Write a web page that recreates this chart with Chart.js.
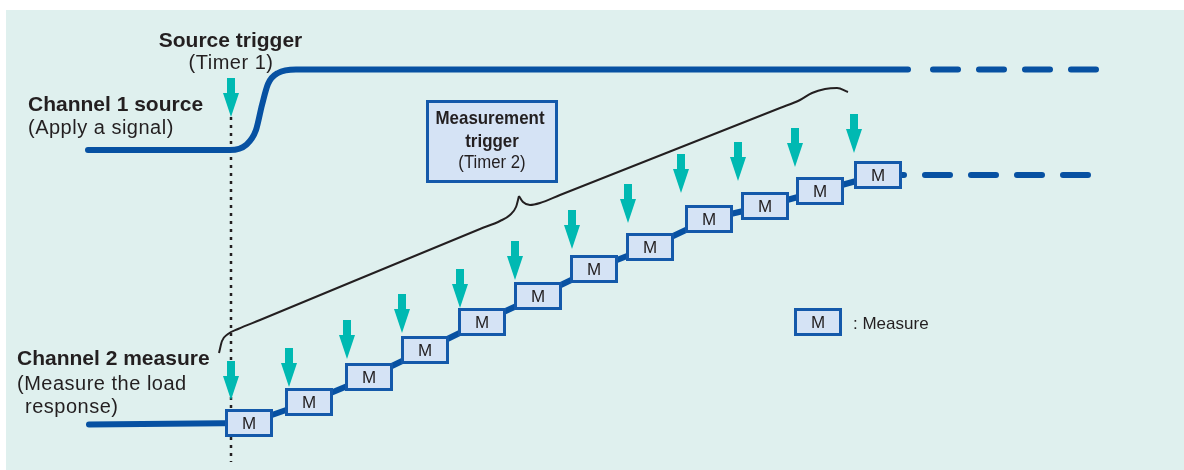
<!DOCTYPE html>
<html>
<head>
<meta charset="utf-8">
<script src="https://cdn.jsdelivr.net/npm/chart.js@4.4.0/dist/chart.umd.min.js"></script>
<style>
  html, body { margin: 0; padding: 0; background: #fff; }
  #wrap { width: 1184px; height: 470px; }
</style>
</head>
<body>
<div id="wrap"><canvas id="chart1"></canvas></div>
<script>
// Diagram values (x = time, y = level; both in picture units)

// Channel 1 source: flat, S-shaped rise after the source trigger, then flat
const ch1X = [88, 230, 246, 256, 262, 268, 278, 296, 908];
const ch1Y = [150, 150, 145, 130, 105, 84, 73, 69.5, 69.5];
const ch1DashX = [933, 1097];
const ch1DashY = [69.5, 69.5];

// Channel 2 measure: flat start, then one step per measurement
const ch2StartX = [89];
const ch2StartY = [424.5];
const measX = [249, 309, 369, 425, 482, 538, 594, 650, 709, 765, 820, 878];
const measY = [423, 402, 377, 350, 322, 296, 269, 247, 219, 206, 191, 175];
const ch2EndX = [904];
const ch2EndY = [175];
const ch2DashX = [925, 1089];
const ch2DashY = [175, 175];

// trigger arrows (tip positions)
const srcTrigX = [231];
const srcTrigY = [117];
const measTrigX = [231, 289, 347, 402, 460, 515, 572, 628, 681, 738, 795, 854];
const measTrigY = [400, 387, 359, 333, 308, 280, 249, 223, 193, 181, 167, 153];

// dotted marker below the source trigger
const markX = [231, 231];
const markY = [117, 462];

// brace spanning the measurement triggers
const braceLX = [219, 222, 228, 238, 260, 480, 500, 510, 516, 519];
const braceLY = [353, 341, 334, 329, 320, 229, 221, 215, 207, 196];
const braceRX = [519, 523, 530, 540, 560, 780, 800, 812, 825, 837, 848];
const braceRY = [196, 202, 205, 203, 195, 108, 100, 93, 89, 88, 92];

// legend sample box
const legendX = [818];
const legendY = [322];

const BLUE = '#0751a2';
const BOX_EDGE = '#1459aa';
const BOX_FILL = '#d5e3f5';
const CYAN = '#00b9b2';
const INK = '#231f20';
const BG = '#dff0ee';
const FONT = '"Liberation Sans", Arial, Helvetica, sans-serif';

function pts(xs, ys) {
    return xs.map(function(x, i) { return {x: x, y: ys[i]}; });
}

// "M" box used as point style
function makeBox() {
    const c = document.createElement('canvas');
    c.width = 48; c.height = 28;
    const g = c.getContext('2d');
    g.fillStyle = BOX_FILL;
    g.fillRect(0, 0, 48, 28);
    g.strokeStyle = BOX_EDGE;
    g.lineWidth = 3;
    g.strokeRect(1.5, 1.5, 45, 25);
    g.fillStyle = INK;
    g.font = '17px ' + FONT;
    g.textAlign = 'center';
    g.fillText('M', 24, 20);
    return c;
}

// down arrow with its tip at the image centre
function makeArrow() {
    const c = document.createElement('canvas');
    c.width = 16; c.height = 80;
    const g = c.getContext('2d');
    g.fillStyle = CYAN;
    g.fillRect(4, 1, 8, 16);
    g.beginPath();
    g.moveTo(0, 16);
    g.lineTo(16, 16);
    g.lineTo(8, 40);
    g.closePath();
    g.fill();
    return c;
}

const boxImg = makeBox();
const arrowImg = makeArrow();

function txt(chart, s, x, y, font, align, sx, spacing) {
    const ctx = chart.ctx;
    const px = chart.scales.x.getPixelForValue(x);
    const py = chart.scales.y.getPixelForValue(y);
    ctx.save();
    ctx.font = font;
    ctx.fillStyle = INK;
    ctx.textAlign = align;
    ctx.textBaseline = 'alphabetic';
    if ('letterSpacing' in ctx) ctx.letterSpacing = spacing || '0px';
    ctx.translate(px, py);
    ctx.scale(sx || 1, 1);
    ctx.fillText(s, 0, 0);
    ctx.restore();
}

const diagramPlugin = {
    id: 'diagram',
    beforeDraw: function(chart) {
        const ctx = chart.ctx;
        ctx.save();
        ctx.fillStyle = '#ffffff';
        ctx.fillRect(0, 0, chart.width, chart.height);
        ctx.fillStyle = BG;
        ctx.fillRect(6, 10, chart.width - 6, chart.height - 10);
        ctx.restore();
    },
    afterDraw: function(chart) {
        const ctx = chart.ctx;
        const sx = chart.scales.x, sy = chart.scales.y;
        const bold = 'bold 21px ' + FONT;
        const reg = '20px ' + FONT;

        txt(chart, 'Source trigger', 230.5, 47, bold, 'center');
        txt(chart, '(Timer 1)', 231, 69, reg, 'center', 1, '0.5px');
        txt(chart, 'Channel 1 source', 28, 111, bold, 'left');
        txt(chart, '(Apply a signal)', 28, 134, reg, 'left', 1, '0.5px');
        txt(chart, 'Channel 2 measure', 17, 365, bold, 'left');
        txt(chart, '(Measure the load', 17, 390, reg, 'left', 1, '0.5px');
        txt(chart, 'response)', 25, 413, reg, 'left', 1, '0.5px');

        // measurement trigger callout
        const l = sx.getPixelForValue(426), r = sx.getPixelForValue(558);
        const t = sy.getPixelForValue(100), b = sy.getPixelForValue(183);
        ctx.save();
        ctx.fillStyle = BOX_FILL;
        ctx.fillRect(l, t, r - l, b - t);
        ctx.strokeStyle = BOX_EDGE;
        ctx.lineWidth = 3;
        ctx.strokeRect(l + 1.5, t + 1.5, r - l - 3, b - t - 3);
        ctx.restore();
        txt(chart, 'Measurement', 490, 124, 'bold 19px ' + FONT, 'center', 0.89);
        txt(chart, 'trigger', 492, 147, 'bold 19px ' + FONT, 'center', 0.89);
        txt(chart, '(Timer 2)', 492, 168, '18px ' + FONT, 'center', 0.93);

        txt(chart, ': Measure', 853, 329, '17px ' + FONT, 'left');
    }
};

document.addEventListener("DOMContentLoaded", function() {

    const ctx1 = document.getElementById('chart1').getContext('2d');
    new Chart(ctx1, {
        type: 'scatter',
        data: {
            datasets: [{
                label: 'Measure',
                data: pts(measX, measY),
                pointStyle: boxImg,
                pointRadius: 1,
                order: 1
            }, {
                label: 'Legend',
                data: pts(legendX, legendY),
                pointStyle: boxImg,
                pointRadius: 1,
                order: 1
            }, {
                label: 'Measurement trigger',
                data: pts(measTrigX, measTrigY),
                pointStyle: arrowImg,
                pointRadius: 1,
                order: 2
            }, {
                label: 'Source trigger',
                data: pts(srcTrigX, srcTrigY),
                pointStyle: arrowImg,
                pointRadius: 1,
                order: 2
            }, {
                label: 'Channel 2 measure',
                data: pts(ch2StartX, ch2StartY).concat(pts(measX, measY), pts(ch2EndX, ch2EndY)),
                showLine: true,
                borderColor: BLUE,
                borderWidth: 6,
                borderCapStyle: 'round',
                borderJoinStyle: 'round',
                pointRadius: 0,
                order: 5
            }, {
                label: 'Channel 2 continues',
                data: pts(ch2DashX, ch2DashY),
                showLine: true,
                borderColor: BLUE,
                borderWidth: 6,
                borderCapStyle: 'round',
                borderDash: [25, 21],
                pointRadius: 0,
                order: 5
            }, {
                label: 'Channel 1 source',
                data: pts(ch1X, ch1Y),
                showLine: true,
                cubicInterpolationMode: 'monotone',
                borderColor: BLUE,
                borderWidth: 6,
                borderCapStyle: 'round',
                pointRadius: 0,
                order: 5
            }, {
                label: 'Channel 1 continues',
                data: pts(ch1DashX, ch1DashY),
                showLine: true,
                borderColor: BLUE,
                borderWidth: 6,
                borderCapStyle: 'round',
                borderDash: [25, 21],
                pointRadius: 0,
                order: 5
            }, {
                label: 'Trigger marker',
                data: pts(markX, markY),
                showLine: true,
                borderColor: INK,
                borderWidth: 2.5,
                borderDash: [3, 5],
                pointRadius: 0,
                order: 6
            }, {
                label: 'Brace left',
                data: pts(braceLX, braceLY),
                showLine: true,
                cubicInterpolationMode: 'monotone',
                borderColor: INK,
                borderWidth: 2,
                pointRadius: 0,
                order: 6
            }, {
                label: 'Brace right',
                data: pts(braceRX, braceRY),
                showLine: true,
                cubicInterpolationMode: 'monotone',
                borderColor: INK,
                borderWidth: 2,
                pointRadius: 0,
                order: 6
            }]
        },
        options: {
            responsive: true,
            maintainAspectRatio: false,
            animation: false,
            events: [],
            layout: { padding: 0, autoPadding: false },
            plugins: {
                legend: { display: false },
                tooltip: { enabled: false }
            },
            scales: {
                x: { type: 'linear', min: 0, max: 1184, display: false },
                y: { type: 'linear', min: 0, max: 470, reverse: true, display: false }
            }
        },
        plugins: [diagramPlugin]
    });
});
</script>
</body>
</html>
